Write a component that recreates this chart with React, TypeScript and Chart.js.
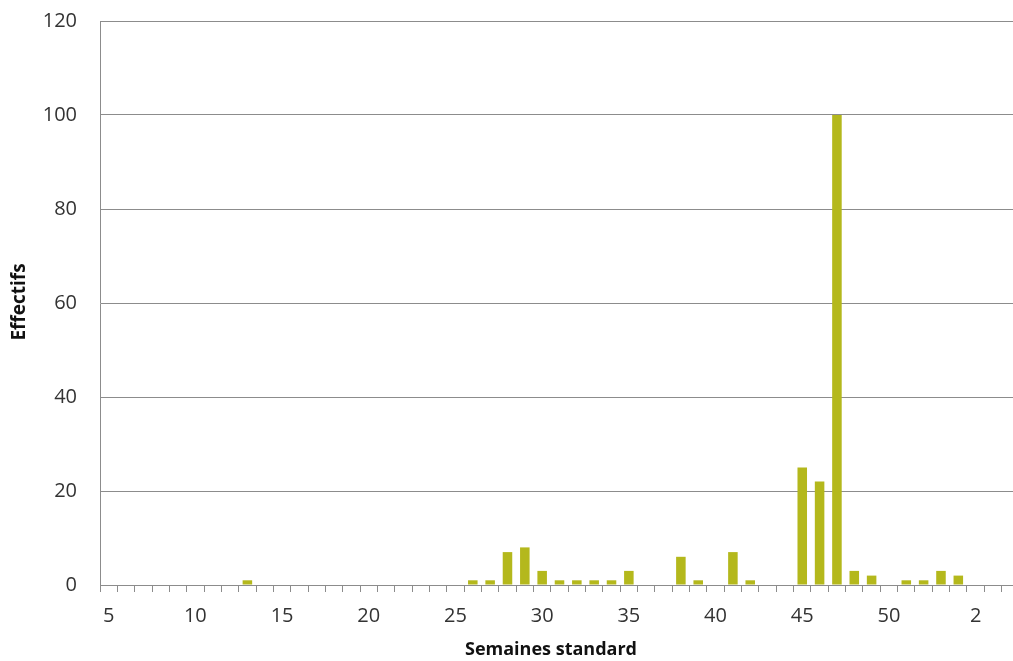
import React, { useEffect, useRef } from "react";
import { Chart, registerables } from "chart.js";

Chart.register(...registerables);

// Standard weeks (week 5 of one year through week 4 of the next; week 53 exists)
const weeks: string[] = [
  "5", "6", "7", "8", "9", "10", "11", "12", "13", "14",
  "15", "16", "17", "18", "19", "20", "21", "22", "23", "24",
  "25", "26", "27", "28", "29", "30", "31", "32", "33", "34",
  "35", "36", "37", "38", "39", "40", "41", "42", "43", "44",
  "45", "46", "47", "48", "49", "50", "51", "52", "53", "1",
  "2", "3", "4",
];

// Effectifs per week
const effectifs: number[] = [
  0, 0, 0, 0, 0, 0, 0, 0, 1, 0,
  0, 0, 0, 0, 0, 0, 0, 0, 0, 0,
  0, 1, 1, 7, 8, 3, 1, 1, 1, 1,
  3, 0, 0, 6, 1, 0, 7, 1, 0, 0,
  25, 22, 100, 3, 2, 0, 1, 1, 3, 2,
  0, 0, 0,
];

const yTicks: number[] = [0, 20, 40, 60, 80, 100, 120];

const xTitle = "Semaines standard";
const yTitle = "Effectifs";

const GRID = "#8c8c8c";
const BAR = "#b4b81c";
const TEXT = "#333333";
const FONT = "'Open Sans', 'DejaVu Sans', sans-serif";

const titlesPlugin = {
  id: "excelTitles",
  afterDraw(chart: any) {
    const { ctx } = chart;
    ctx.save();
    ctx.fillStyle = "#111111";
    ctx.textAlign = "center";
    ctx.textBaseline = "middle";
    ctx.font = `bold 18px ${FONT}`;
    ctx.fillText(xTitle, 551, 650);
    ctx.font = `bold 19px ${FONT}`;
    ctx.translate(20, 302);
    ctx.rotate(-Math.PI / 2);
    ctx.fillText(yTitle, 0, 0);
    ctx.restore();
  },
};

export default function App() {
  const ref = useRef<HTMLCanvasElement | null>(null);

  useEffect(() => {
    if (!ref.current) return;
    const chart = new Chart(ref.current, {
      type: "bar",
      data: {
        labels: weeks,
        datasets: [
          {
            data: effectifs,
            backgroundColor: BAR,
            borderWidth: 0,
            barPercentage: 0.55,
            categoryPercentage: 1,
          },
        ],
      },
      options: {
        responsive: false,
        animation: false,
        events: [],
        layout: { padding: { top: 21, left: 0, right: 0, bottom: 0 } },
        plugins: {
          legend: { display: false },
          tooltip: { enabled: false },
          title: { display: false },
        },
        scales: {
          x: {
            offset: true,
            grid: {
              display: true,
              offset: true,
              drawOnChartArea: false,
              drawTicks: true,
              tickLength: 7,
              color: GRID,
              lineWidth: 1,
            },
            border: { display: true, color: GRID, width: 1 },
            ticks: {
              autoSkip: false,
              maxRotation: 0,
              minRotation: 0,
              padding: 12,
              color: TEXT,
              font: { family: FONT, size: 20 },
              callback: (_v: any, i: number) => (i % 5 === 0 ? weeks[i] : ""),
            },
            afterFit: (scale: any) => {
              scale.height = 76;
              scale.paddingLeft = 0;
              scale.paddingRight = 0;
            },
          },
          y: {
            min: yTicks[0],
            max: yTicks[yTicks.length - 1],
            afterBuildTicks: (scale: any) => {
              scale.ticks = yTicks.map((v) => ({ value: v }));
            },
            grid: {
              color: GRID,
              lineWidth: 1,
              drawTicks: false,
            },
            border: { display: true, color: GRID, width: 1 },
            ticks: {
              padding: 23,
              color: TEXT,
              font: { family: FONT, size: 20 },
            },
            afterFit: (scale: any) => {
              scale.width = 100;
              scale.paddingTop = 0;
              scale.paddingBottom = 0;
            },
          },
        },
      },
      plugins: [titlesPlugin],
    });
    return () => chart.destroy();
  }, []);

  return (
    <div
      style={{
        position: "fixed",
        left: 0,
        top: 0,
        width: 1013,
        height: 661,
        overflow: "hidden",
        background: "#ffffff",
      }}
    >
      <canvas ref={ref} width={1019} height={661} style={{ display: "block" }} />
    </div>
  );
}
